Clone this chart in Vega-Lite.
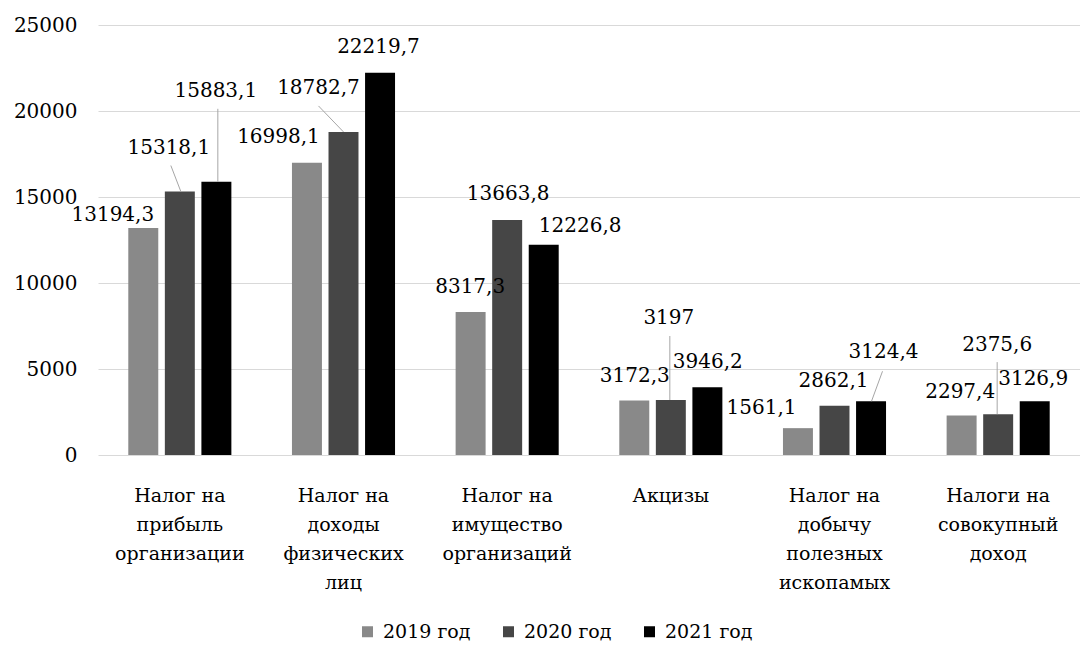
{
  "$schema": "https://vega.github.io/schema/vega-lite/v6.json",
  "width": 982,
  "height": 430,
  "autosize": {"type": "none"},
  "padding": {"left": 98, "top": 25, "right": 0, "bottom": 192},
  "background": "white",
  "config": {
    "font": "DejaVu Serif",
    "view": {"stroke": null},
    "locale": {"number": {"decimal": ",", "thousands": " ", "grouping": [3], "currency": ["", ""]}},
    "text": {"font": "DejaVu Serif", "fontSize": 20, "baseline": "middle", "align": "center", "color": "#000000"},
    "rule": {"color": "#a6a6a6", "strokeWidth": 1}
  },
  "data": {
    "values": [
      {"category": "Налог на прибыль организации", "year": "2019 год", "value": 13194.3},
      {"category": "Налог на прибыль организации", "year": "2020 год", "value": 15318.1},
      {"category": "Налог на прибыль организации", "year": "2021 год", "value": 15883.1},
      {"category": "Налог на доходы физических лиц", "year": "2019 год", "value": 16998.1},
      {"category": "Налог на доходы физических лиц", "year": "2020 год", "value": 18782.7},
      {"category": "Налог на доходы физических лиц", "year": "2021 год", "value": 22219.7},
      {"category": "Налог на имущество организаций", "year": "2019 год", "value": 8317.3},
      {"category": "Налог на имущество организаций", "year": "2020 год", "value": 13663.8},
      {"category": "Налог на имущество организаций", "year": "2021 год", "value": 12226.8},
      {"category": "Акцизы", "year": "2019 год", "value": 3172.3},
      {"category": "Акцизы", "year": "2020 год", "value": 3197},
      {"category": "Акцизы", "year": "2021 год", "value": 3946.2},
      {"category": "Налог на добычу полезных ископамых", "year": "2019 год", "value": 1561.1},
      {"category": "Налог на добычу полезных ископамых", "year": "2020 год", "value": 2862.1},
      {"category": "Налог на добычу полезных ископамых", "year": "2021 год", "value": 3124.4},
      {"category": "Налоги на совокупный доход", "year": "2019 год", "value": 2297.4},
      {"category": "Налоги на совокупный доход", "year": "2020 год", "value": 2375.6},
      {"category": "Налоги на совокупный доход", "year": "2021 год", "value": 3126.9}
    ]
  },
  "encoding": {
    "x": {
      "field": "category",
      "type": "nominal",
      "sort": ["Налог на прибыль организации", "Налог на доходы физических лиц", "Налог на имущество организаций", "Акцизы", "Налог на добычу полезных ископамых", "Налоги на совокупный доход"],
      "scale": {"paddingInner": 0.33, "paddingOuter": 0.165},
      "axis": {
        "title": null,
        "domain": false,
        "ticks": false,
        "labelAngle": 0,
        "labelFont": "DejaVu Serif",
        "labelFontSize": 19,
        "labelColor": "#000000",
        "labelBaseline": "top",
        "labelPadding": 31,
        "labelLineHeight": 29,
        "labelLimit": 0,
        "labelOverlap": false,
        "labelExpr": "split(replace(replace(datum.value, regexp(' ', 'g'), '|'), regexp('[|]на[|]', 'g'), ' на|'), '|')"
      }
    },
    "y": {
      "field": "value",
      "type": "quantitative",
      "scale": {"domain": [0, 25000], "nice": false},
      "axis": {
        "title": null,
        "domain": false,
        "ticks": false,
        "grid": true,
        "gridColor": "#d9d9d9",
        "gridWidth": 1,
        "values": [0, 5000, 10000, 15000, 20000, 25000],
        "format": "d",
        "labelFont": "DejaVu Serif",
        "labelFontSize": 20,
        "labelColor": "#000000",
        "labelPadding": 21
      }
    }
  },
  "layer": [
    {
      "mark": {"type": "bar"},
      "encoding": {
        "xOffset": {"field": "year", "type": "nominal", "scale": {"paddingInner": 0.18, "paddingOuter": 0.09}},
        "color": {
          "field": "year",
          "type": "nominal",
          "scale": {"domain": ["2019 год", "2020 год", "2021 год"], "range": ["#898989", "#464646", "#000000"]},
          "legend": {
            "title": null,
            "orient": "none",
            "direction": "horizontal",
            "legendX": 260,
            "legendY": 597,
            "padding": 0,
            "symbolType": "square",
            "symbolSize": 121,
            "symbolStrokeWidth": 0,
            "labelFont": "DejaVu Serif",
            "labelFontSize": 19,
            "labelColor": "#000000",
            "labelOffset": 6,
            "columnPadding": 28
          }
        }
      }
    },
    {"transform": [{"filter": "datum.category == 'Налог на прибыль организации' && datum.year == '2020 год'"}], "mark": {"type": "rule", "xOffset": 1, "x2Offset": -9, "y2Offset": -26}, "encoding": {"x2": {"field": "category", "bandPosition": 0.5}, "y2": {"field": "value"}}},
    {"transform": [{"filter": "datum.category == 'Налог на прибыль организации' && datum.year == '2021 год'"}], "mark": {"type": "rule", "xOffset": 38, "x2Offset": 38, "y2Offset": -73}, "encoding": {"x2": {"field": "category", "bandPosition": 0.5}, "y2": {"field": "value"}}},
    {"transform": [{"filter": "datum.category == 'Налог на доходы физических лиц' && datum.year == '2020 год'"}], "mark": {"type": "rule", "xOffset": 0, "x2Offset": -25, "y2Offset": -26}, "encoding": {"x2": {"field": "category", "bandPosition": 0.5}, "y2": {"field": "value"}}},
    {"transform": [{"filter": "datum.category == 'Акцизы' && datum.year == '2020 год'"}], "mark": {"type": "rule", "xOffset": -1, "x2Offset": -1, "y2Offset": -64}, "encoding": {"x2": {"field": "category", "bandPosition": 0.5}, "y2": {"field": "value"}}},
    {"transform": [{"filter": "datum.category == 'Налог на добычу полезных ископамых' && datum.year == '2021 год'"}], "mark": {"type": "rule", "xOffset": 37, "x2Offset": 48, "y2Offset": -30}, "encoding": {"x2": {"field": "category", "bandPosition": 0.5}, "y2": {"field": "value"}}},
    {"transform": [{"filter": "datum.category == 'Налоги на совокупный доход' && datum.year == '2020 год'"}], "mark": {"type": "rule", "xOffset": -1, "x2Offset": -1, "y2Offset": -52}, "encoding": {"x2": {"field": "category", "bandPosition": 0.5}, "y2": {"field": "value"}}},

    {"transform": [{"filter": "datum.category == 'Налог на прибыль организации' && datum.year == '2019 год'"}], "mark": {"type": "text", "dx": -67, "dy": -13}, "encoding": {"text": {"field": "value", "type": "quantitative", "format": ".1~f"}}},
    {"transform": [{"filter": "datum.category == 'Налог на прибыль организации' && datum.year == '2020 год'"}], "mark": {"type": "text", "dx": -11, "dy": -44}, "encoding": {"text": {"field": "value", "type": "quantitative", "format": ".1~f"}}},
    {"transform": [{"filter": "datum.category == 'Налог на прибыль организации' && datum.year == '2021 год'"}], "mark": {"type": "text", "dx": 36, "dy": -91}, "encoding": {"text": {"field": "value", "type": "quantitative", "format": ".1~f"}}},
    {"transform": [{"filter": "datum.category == 'Налог на доходы физических лиц' && datum.year == '2019 год'"}], "mark": {"type": "text", "dx": -65, "dy": -26}, "encoding": {"text": {"field": "value", "type": "quantitative", "format": ".1~f"}}},
    {"transform": [{"filter": "datum.category == 'Налог на доходы физических лиц' && datum.year == '2020 год'"}], "mark": {"type": "text", "dx": -25, "dy": -44}, "encoding": {"text": {"field": "value", "type": "quantitative", "format": ".1~f"}}},
    {"transform": [{"filter": "datum.category == 'Налог на доходы физических лиц' && datum.year == '2021 год'"}], "mark": {"type": "text", "dx": 35, "dy": -26}, "encoding": {"text": {"field": "value", "type": "quantitative", "format": ".1~f"}}},
    {"transform": [{"filter": "datum.category == 'Налог на имущество организаций' && datum.year == '2019 год'"}], "mark": {"type": "text", "dx": -37, "dy": -25}, "encoding": {"text": {"field": "value", "type": "quantitative", "format": ".1~f"}}},
    {"transform": [{"filter": "datum.category == 'Налог на имущество организаций' && datum.year == '2020 год'"}], "mark": {"type": "text", "dx": 1, "dy": -26}, "encoding": {"text": {"field": "value", "type": "quantitative", "format": ".1~f"}}},
    {"transform": [{"filter": "datum.category == 'Налог на имущество организаций' && datum.year == '2021 год'"}], "mark": {"type": "text", "dx": 73, "dy": -19}, "encoding": {"text": {"field": "value", "type": "quantitative", "format": ".1~f"}}},
    {"transform": [{"filter": "datum.category == 'Акцизы' && datum.year == '2019 год'"}], "mark": {"type": "text", "dx": -36, "dy": -24}, "encoding": {"text": {"field": "value", "type": "quantitative", "format": ".1~f"}}},
    {"transform": [{"filter": "datum.category == 'Акцизы' && datum.year == '2020 год'"}], "mark": {"type": "text", "dx": -2, "dy": -82}, "encoding": {"text": {"field": "value", "type": "quantitative", "format": ".1~f"}}},
    {"transform": [{"filter": "datum.category == 'Акцизы' && datum.year == '2021 год'"}], "mark": {"type": "text", "dx": 37, "dy": -25}, "encoding": {"text": {"field": "value", "type": "quantitative", "format": ".1~f"}}},
    {"transform": [{"filter": "datum.category == 'Налог на добычу полезных ископамых' && datum.year == '2019 год'"}], "mark": {"type": "text", "dx": -73, "dy": -20}, "encoding": {"text": {"field": "value", "type": "quantitative", "format": ".1~f"}}},
    {"transform": [{"filter": "datum.category == 'Налог на добычу полезных ископамых' && datum.year == '2020 год'"}], "mark": {"type": "text", "dx": -1, "dy": -25}, "encoding": {"text": {"field": "value", "type": "quantitative", "format": ".1~f"}}},
    {"transform": [{"filter": "datum.category == 'Налог на добычу полезных ископамых' && datum.year == '2021 год'"}], "mark": {"type": "text", "dx": 49, "dy": -49}, "encoding": {"text": {"field": "value", "type": "quantitative", "format": ".1~f"}}},
    {"transform": [{"filter": "datum.category == 'Налоги на совокупный доход' && datum.year == '2019 год'"}], "mark": {"type": "text", "dx": -38, "dy": -23}, "encoding": {"text": {"field": "value", "type": "quantitative", "format": ".1~f"}}},
    {"transform": [{"filter": "datum.category == 'Налоги на совокупный доход' && datum.year == '2020 год'"}], "mark": {"type": "text", "dx": -1, "dy": -69}, "encoding": {"text": {"field": "value", "type": "quantitative", "format": ".1~f"}}},
    {"transform": [{"filter": "datum.category == 'Налоги на совокупный доход' && datum.year == '2021 год'"}], "mark": {"type": "text", "dx": 35, "dy": -22}, "encoding": {"text": {"field": "value", "type": "quantitative", "format": ".1~f"}}}
  ]
}
